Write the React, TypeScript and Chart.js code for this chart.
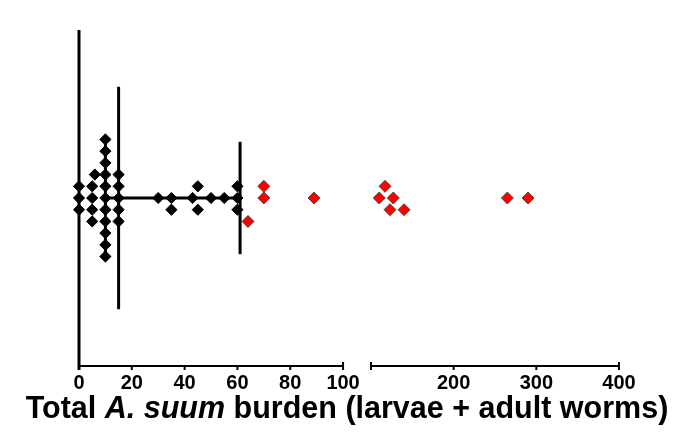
import React, { useEffect, useRef } from 'react';
import { Chart, registerables, LinearScale } from 'chart.js';

// ---- Data ----
// Black diamonds: burden values and their vertical beeswarm offsets (rows, + = up)
const BLACK_VALUES = [0, 0, 0, 5, 5, 5, 5, 6, 10, 10, 10, 10, 10, 10, 10, 10, 10, 10, 10, 15, 15, 15, 15, 15, 30, 35, 35, 43, 45, 45, 50, 55, 60, 60, 60];
const BLACK_ROWS = [1, 0, -1, 1, 0, -1, -2, 2, 5, 4, 3, 2, 1, 0, -1, -2, -3, -4, -5, 2, 1, 0, -1, -2, 0, 0, -1, 0, 1, -1, 0, 0, 1, 0, -1];
// Red diamonds
const RED_VALUES = [64, 70, 70, 89, 110, 117, 123, 127, 140, 265, 290];
const RED_ROWS = [-2, 1, 0, 0, 0, 1, -1, 0, -1, 0, 0];
// Median and interquartile range
const MEDIAN = 15;
const Q1 = 10;
const Q3 = 61;
const MEDIAN_HALF = 9.5;
const QUARTILE_HALF = 4.8;

const X_TICKS = [0, 20, 40, 60, 80, 100, 200, 300, 400];
const X_MIN = 0;
const BREAK_VALUE = 100;
const X_MAX = 400;
const SEG1_END = 0.489; // fraction of axis width where first segment ends
const SEG2_START = 0.5407; // fraction where second segment starts

const TITLE_PARTS = [
  { text: 'Total ', italic: false },
  { text: 'A. suum', italic: true },
  { text: ' burden (larvae + adult worms)', italic: false },
];

const FONT = '"Liberation Sans", Arial, sans-serif';

function valueToDecimal(v: number): number {
  if (v <= BREAK_VALUE) return ((v - X_MIN) / (BREAK_VALUE - X_MIN)) * SEG1_END;
  return SEG2_START + ((v - BREAK_VALUE) / (X_MAX - BREAK_VALUE)) * (1 - SEG2_START);
}
function decimalToValue(d: number): number {
  if (d <= SEG1_END) return X_MIN + (d / SEG1_END) * (BREAK_VALUE - X_MIN);
  return BREAK_VALUE + ((d - SEG2_START) / (1 - SEG2_START)) * (X_MAX - BREAK_VALUE);
}

class BrokenLinearScale extends LinearScale {
  static id = 'brokenLinear';
  buildTicks() {
    return X_TICKS.map((value) => ({ value }));
  }
  getPixelForValue(value: number) {
    return this.getPixelForDecimal(valueToDecimal(value));
  }
  getValueForPixel(pixel: number) {
    return decimalToValue(this.getDecimalForPixel(pixel));
  }
}

Chart.register(...registerables, BrokenLinearScale);

const axesPlugin = {
  id: 'brokenAxes',
  beforeDatasetsDraw(chart: any) {
    const { ctx, chartArea } = chart;
    const { left, top, bottom } = chartArea;
    const xs = chart.scales.x;
    ctx.save();
    ctx.strokeStyle = '#000';
    ctx.lineCap = 'butt';
    // y axis line
    ctx.lineWidth = 3;
    ctx.beginPath();
    ctx.moveTo(left, top);
    ctx.lineTo(left, bottom + 4);
    ctx.stroke();
    // x axis segments
    const p100 = xs.getPixelForValue(BREAK_VALUE);
    const p2 = xs.getPixelForDecimal(SEG2_START);
    const pEnd = xs.getPixelForValue(X_MAX);
    ctx.lineWidth = 2;
    ctx.beginPath();
    ctx.moveTo(left, bottom);
    ctx.lineTo(p100, bottom);
    ctx.moveTo(p2, bottom);
    ctx.lineTo(pEnd, bottom);
    ctx.stroke();
    // caps at segment ends
    ctx.beginPath();
    [p100, p2, pEnd].forEach((p) => {
      ctx.moveTo(p, bottom - 4);
      ctx.lineTo(p, bottom + 4);
    });
    // tick marks
    X_TICKS.forEach((t) => {
      if (t === X_MIN || t === BREAK_VALUE || t === X_MAX) return;
      const p = xs.getPixelForValue(t);
      ctx.moveTo(p, bottom);
      ctx.lineTo(p, bottom + 4);
    });
    ctx.stroke();
    ctx.restore();
  },
  afterDraw(chart: any) {
    const { ctx, width } = chart;
    ctx.save();
    ctx.fillStyle = '#000';
    ctx.textBaseline = 'alphabetic';
    const fonts = TITLE_PARTS.map((p) => `${p.italic ? 'italic ' : ''}bold 30.5px ${FONT}`);
    let total = 0;
    const widths = TITLE_PARTS.map((p, i) => {
      ctx.font = fonts[i];
      const w = ctx.measureText(p.text).width;
      total += w;
      return w;
    });
    let x = width / 2 - total / 2;
    TITLE_PARTS.forEach((p, i) => {
      ctx.font = fonts[i];
      ctx.fillText(p.text, x, 418);
      x += widths[i];
    });
    ctx.restore();
  },
};

export default function App() {
  const ref = useRef<HTMLCanvasElement | null>(null);
  useEffect(() => {
    if (!ref.current) return;
    const lineStyle = {
      type: 'line' as const,
      showLine: true,
      borderColor: '#000',
      borderWidth: 3,
      pointRadius: 0,
      fill: false,
      clip: false as any,
    };
    const chart = new Chart(ref.current, {
      type: 'scatter',
      data: {
        datasets: [
          {
            label: 'Low burden',
            data: BLACK_VALUES.map((v, i) => ({ x: v, y: BLACK_ROWS[i] })),
            pointStyle: 'rectRot',
            pointRadius: 5.6,
            backgroundColor: '#000',
            borderColor: '#000',
            borderWidth: 1,
            clip: false as any,
            order: 0,
          },
          {
            label: 'High burden',
            data: RED_VALUES.map((v, i) => ({ x: v, y: RED_ROWS[i] })),
            pointStyle: 'rectRot',
            pointRadius: 6,
            backgroundColor: '#ff0000',
            borderColor: '#4a4a4a',
            borderWidth: 1,
            clip: false as any,
            order: 0,
          },
          { ...lineStyle, label: 'Median', data: [{ x: MEDIAN, y: -MEDIAN_HALF }, { x: MEDIAN, y: MEDIAN_HALF }], order: 1 },
          { ...lineStyle, label: 'Q1', data: [{ x: Q1, y: -QUARTILE_HALF }, { x: Q1, y: QUARTILE_HALF }], order: 1 },
          { ...lineStyle, label: 'Q3', data: [{ x: Q3, y: -QUARTILE_HALF }, { x: Q3, y: QUARTILE_HALF }], order: 1 },
          { ...lineStyle, label: 'IQR', data: [{ x: Q1, y: 0 }, { x: Q3, y: 0 }], order: 1 },
        ] as any,
      },
      options: {
        animation: false,
        responsive: false,
        maintainAspectRatio: false,
        devicePixelRatio: 1,
        layout: { padding: { left: 79, right: 75, top: 30, bottom: 35 } },
        plugins: {
          legend: { display: false },
          tooltip: { enabled: false },
          title: { display: false },
        },
        scales: {
          x: {
            type: 'brokenLinear' as any,
            min: X_MIN,
            max: X_MAX,
            grid: { display: false, drawTicks: false },
            border: { display: false },
            ticks: {
              autoSkip: false,
              maxRotation: 0,
              minRotation: 0,
              padding: 5,
              color: '#000',
              font: { family: FONT, size: 20, weight: 'bold' },
              callback: (v: any) => String(v),
            },
          },
          y: {
            type: 'linear',
            display: false,
            min: -14.35,
            max: 14.35,
          },
        },
      } as any,
      plugins: [axesPlugin],
    });
    return () => chart.destroy();
  }, []);
  return (
    <div style={{ position: 'fixed', left: 0, top: 0, width: 694, height: 435, background: '#fff' }}>
      <canvas ref={ref} width={694} height={435} style={{ display: 'block', width: 694, height: 435 }} />
    </div>
  );
}
